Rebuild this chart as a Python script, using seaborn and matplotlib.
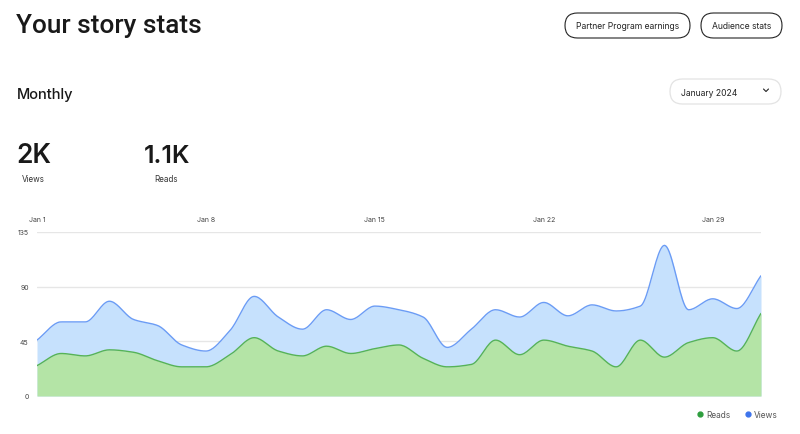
import numpy as np
import pandas as pd
import matplotlib
matplotlib.use("Agg")
import matplotlib.pyplot as plt
import seaborn as sns
from matplotlib.patches import FancyBboxPatch
from matplotlib.lines import Line2D

# ---- data ----
days = list(range(1, 32))
views = [46, 61, 61, 78, 63, 58, 42, 37, 54, 82, 65, 55, 71, 63, 74, 71, 65, 40,
         55, 71, 65, 77, 66, 75, 70, 74, 124, 71, 80, 72, 99]
reads = [25, 35, 33, 38, 36, 29, 24, 24, 34, 48, 37, 33, 41, 35, 39, 42, 31, 24,
         26, 46, 34, 46, 41, 37, 24, 46, 32, 44, 48, 37, 68]
tick_days = [1, 8, 15, 22, 29]
tick_labels = ["Jan 1", "Jan 8", "Jan 15", "Jan 22", "Jan 29"]
y_ticks = [0, 45, 90, 135]
total_views = "2K"
total_reads = "1.1K"

VIEW_FILL = "#c6e1fd"
VIEW_LINE = "#6b9cf5"
READ_FILL = "#b4e4a6"
READ_LINE = "#56b356"


def monotone_curve(x, y, n=20):
    """Monotone cubic (Fritsch-Carlson) rendering of a polyline."""
    x = np.asarray(x, float)
    y = np.asarray(y, float)
    h = np.diff(x)
    d = np.diff(y) / h
    m = np.zeros_like(y)
    m[0], m[-1] = d[0], d[-1]
    for i in range(1, len(y) - 1):
        if d[i - 1] * d[i] <= 0:
            m[i] = 0
        else:
            m[i] = 3 * (h[i - 1] + h[i]) / ((2 * h[i] + h[i - 1]) / d[i - 1] + (h[i] + 2 * h[i - 1]) / d[i])
    xs, ys = [], []
    for i in range(len(x) - 1):
        t = np.linspace(0, 1, n, endpoint=False)
        h00 = 2 * t**3 - 3 * t**2 + 1
        h10 = t**3 - 2 * t**2 + t
        h01 = -2 * t**3 + 3 * t**2
        h11 = t**3 - t**2
        xs.append(x[i] + t * h[i])
        ys.append(h00 * y[i] + h10 * h[i] * m[i] + h01 * y[i + 1] + h11 * h[i] * m[i + 1])
    xs.append([x[-1]])
    ys.append([y[-1]])
    return np.concatenate(xs), np.concatenate(ys)


sns.set_theme(style="white")
plt.rcParams["font.family"] = ["Inter", "DejaVu Sans"]

fig = plt.figure(figsize=(8, 4.35), dpi=100)

# overlay axes in pixel coordinates for page decoration
ov = fig.add_axes([0, 0, 1, 1])
ov.set_xlim(0, 800)
ov.set_ylim(435, 0)
ov.axis("off")

ov.text(16, 33, "Your story stats", fontsize=18.8, fontweight="medium", color="#191919",
        va="baseline", ha="left", family=["Roboto", "DejaVu Sans"])
ov.text(17, 98.5, "Monthly", fontsize=10.5, fontweight="medium", color="#191919", va="baseline", ha="left")
ov.text(16, 163, total_views, fontsize=19, fontweight="semibold", color="#191919", va="baseline", ha="left")
ov.text(144, 163, total_reads, fontsize=18, fontweight="semibold", color="#191919", va="baseline", ha="left")
ov.text(22, 182, "Views", fontsize=5.8, color="#333333", va="baseline", ha="left")
ov.text(154, 182, "Reads", fontsize=5.8, color="#333333", va="baseline", ha="left")

for (x0, x1, label) in [(565, 690, "Partner Program earnings"), (701, 782, "Audience stats")]:
    ov.add_patch(FancyBboxPatch((x0, 14), x1 - x0, 25, boxstyle="round,pad=0,rounding_size=12.5",
                                fc="white", ec="#242424", lw=0.8))
    ov.text((x0 + x1) / 2, 26.5, label, fontsize=6.2, color="#242424", ha="center", va="center")

ov.add_patch(FancyBboxPatch((670, 80), 111, 25, boxstyle="round,pad=0,rounding_size=12.5",
                            fc="white", ec="#e3e3e3", lw=0.9))
ov.text(681, 93, "January 2024", fontsize=6.2, color="#242424", ha="left", va="center")
ov.plot([763.5, 766, 768.5], [90, 92.5, 90], color="#242424", lw=0.8)

# ---- chart ----
ax = fig.add_axes([37 / 800, 1 - 397 / 435, (761 - 37) / 800, (397 - 233) / 435])
vx, vy = monotone_curve(days, views)
rx, ry = monotone_curve(days, reads)
curve = pd.DataFrame({"day": np.concatenate([vx, rx]),
                      "value": np.concatenate([vy, ry]),
                      "metric": ["Views"] * len(vx) + ["Reads"] * len(rx)})

ax.fill_between(vx, 0, vy, color=VIEW_FILL, lw=0, zorder=2)
ax.fill_between(rx, 0, ry, color=READ_FILL, lw=0, zorder=3)
sns.lineplot(data=curve, x="day", y="value", hue="metric", hue_order=["Views", "Reads"],
             palette=[VIEW_LINE, READ_LINE], linewidth=1.0, ax=ax, legend=False,
             estimator=None, sort=False, zorder=4)

ax.set_xlim(days[0], days[-1])
ax.set_ylim(0, 135)
ax.set_yticks(y_ticks)
ax.set_yticklabels([str(v) for v in y_ticks])
ax.set_xticks(tick_days)
ax.set_xticklabels(tick_labels)
ax.xaxis.tick_top()
ax.tick_params(axis="x", length=0, pad=7, labelsize=5, labelcolor="#444444")
ax.tick_params(axis="y", length=0, pad=6, labelsize=5, labelcolor="#444444")
ax.set_xlabel("")
ax.set_ylabel("")
for s in ax.spines.values():
    s.set_visible(False)
for yv in y_ticks[1:]:
    ax.axhline(yv, color="#e6e6e6", lw=1, zorder=1)
ax.set_facecolor("none")

handles = [Line2D([], [], marker="o", ls="", color="#2e9e3e", markersize=3.5),
           Line2D([], [], marker="o", ls="", color="#3d74ec", markersize=3.5)]
fig.legend(handles, ["Reads", "Views"], loc="center right", bbox_to_anchor=(785 / 800, 1 - 415.5 / 435),
           ncol=2, frameon=False, fontsize=6, labelcolor="#555555", handletextpad=0.2,
           columnspacing=1.6, handlelength=1.0)

fig.savefig("out.png", dpi=100, facecolor="white")
